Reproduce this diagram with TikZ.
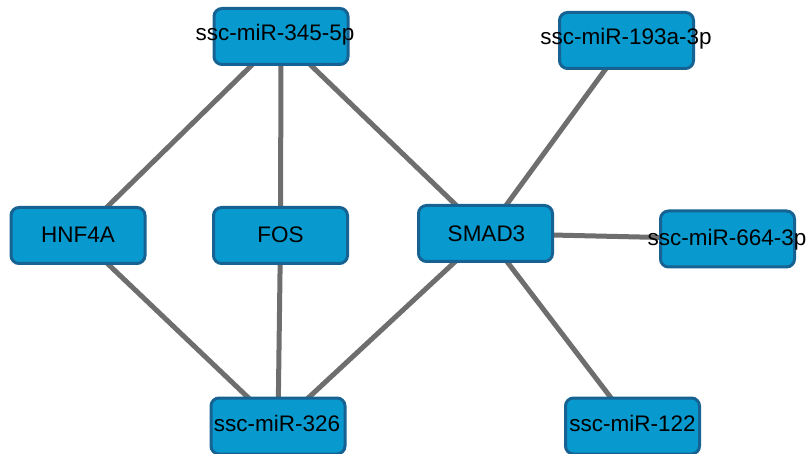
\documentclass[tikz,border=0pt]{standalone}
\usepackage{fontspec}
\setmainfont{Liberation Sans}
\pgfdeclarelayer{background}
\pgfsetlayers{background,main}
\definecolor{boxfill}{RGB}{8,154,206}
\definecolor{boxline}{RGB}{22,98,146}
\definecolor{edgegray}{RGB}{110,110,110}
\tikzset{
  genebox/.style={draw=boxline, fill=boxfill, line width=3pt, rounded corners=8pt,
    minimum width=134pt, minimum height=56pt, inner sep=0pt},
  lbl/.style={anchor=base, inner sep=0pt, font=\fontsize{22.5pt}{26pt}\selectfont, text=black},
  link/.style={draw=edgegray, line width=5pt}
}
\begin{document}
\begin{tikzpicture}[x=1pt,y=-1pt]
\useasboundingbox (0,0) rectangle (811,454);
% boxes
\node[genebox] (m345) at (281,36.5) {};
\node[genebox] (m193) at (626.5,40.5) {};
\node[genebox] (hnf) at (78,235.5) {};
\node[genebox] (fos) at (280.5,235.5) {};
\node[genebox] (smad) at (485.5,233.5) {};
\node[genebox] (m664) at (727.5,239) {};
\node[genebox] (m326) at (278,426) {};
\node[genebox] (m122) at (632.5,426) {};
% labels
\node[lbl] (t345) at (275,41) {ssc-miR-345-5p};
\node[lbl] (t193) at (626,45) {ssc-miR-193a-3p};
\node[lbl] (thnf) at (78,243) {HNF4A};
\node[lbl] (tfos) at (280.5,243) {FOS};
\node[lbl] (tsmad) at (486.5,241.5) {SMAD3};
\node[lbl] (t664) at (727,246) {ssc-miR-664-3p};
\node[lbl] (t326) at (277,431.5) {ssc-miR-326};
\node[lbl] (t122) at (632.5,431.5) {ssc-miR-122};
% edges
\begin{pgfonlayer}{background}
\draw[link] (m345.center) -- (hnf.center);
\draw[link] (m345.center) -- (fos.center);
\draw[link] (m345.center) -- (smad.center);
\draw[link] (m193.center) -- (smad.center);
\draw[link] (smad.center) -- (m664.center);
\draw[link] (smad.center) -- (m122.center);
\draw[link] (smad.center) -- (m326.center);
\draw[link] (hnf.center) -- (m326.center);
\draw[link] (fos.center) -- (m326.center);
\end{pgfonlayer}
\end{tikzpicture}
\end{document}
